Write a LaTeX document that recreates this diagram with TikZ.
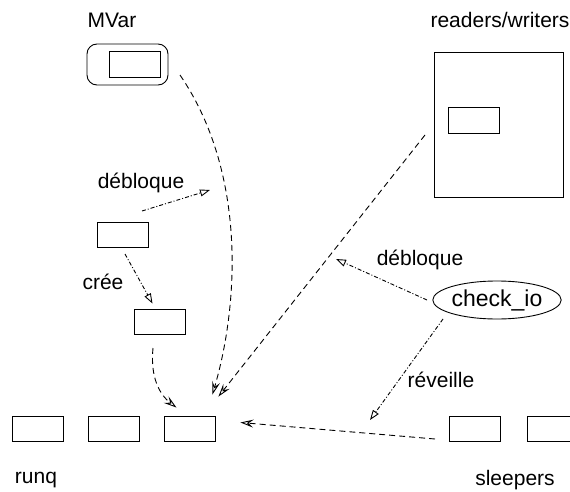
\documentclass[tikz,border=0pt]{standalone}
\usepackage{fontspec}
\setmainfont{Liberation Sans}
\usepackage{tikz}
\usetikzlibrary{arrows.meta,shapes.geometric}

\begin{document}
\begin{tikzpicture}[x=1pt,y=-1pt,line width=0.9pt,
  cell/.style={draw,minimum width=51pt,minimum height=25pt,inner sep=0pt},
  lbl/.style={font=\fontsize{21}{24}\selectfont,inner sep=0pt},
  wait/.style={dash pattern=on 6pt off 4pt,-{Stealth[open,length=13pt,width=8pt,inset=5pt]}},
  signal/.style={dash pattern=on 4pt off 2pt on 1pt off 2pt,-{Triangle[open,length=10pt,width=7pt]}}]
\useasboundingbox (0,0) rectangle (570,492);
\clip (0,0) rectangle (570,492);
\def \rowy {428.5}
% MVar
\node[lbl] (mvarlbl) at (112,20) {MVar};
\node[draw,rounded corners=10pt,minimum width=81pt,minimum height=41pt,inner sep=0pt] (mvar) at (127.5,64.5) {};
\node[cell,minimum height=26pt] (mvarin) at (134.5,64) {};
% readers/writers
\node[lbl] (rwlbl) at (500,20) {readers/writers};
\node[draw,minimum width=129pt,minimum height=145pt,inner sep=0pt] (rw) at (498.5,124.5) {};
\node[cell,minimum height=26pt] (rwin) at (473.5,120) {};
% threads
\node[cell] (t1) at (122.5,234.5) {};
\node[cell] (t2) at (159.5,321.5) {};
% runq and sleepers
\foreach \x [count=\s] in {37.5,113.5,189.5}
  {\node[cell] (q\s) at (\x,\rowy) {};}
\foreach \x [count=\s] in {474.5,552.5}
  {\node[cell] (z\s) at (\x,\rowy) {};}
\node[lbl] (runqlbl) at (36,480) {runq};
\node[lbl] (sleeplbl) at (515,480) {sleepers};
% check_io
\node[draw,ellipse,minimum width=128pt,minimum height=38pt,inner sep=0pt,
  font=\fontsize{23}{26}\selectfont] (io) at (497,300) {check\_io};
% free ends
\coordinate (mvarout) at (180,75);
\coordinate (rwout) at (425,135);
\coordinate (t1out) at (142,211);
\coordinate (t1tip) at (210,190);
\coordinate (t1down) at (125,254);
\coordinate (t2out) at (153,348);
\coordinate (zout) at (435,439);
\coordinate (ioleft) at (427,300);
\coordinate (iotip) at (336,259);
\coordinate (iodown) at (443,319);
\coordinate (iowake) at (370,420);
% waits
\draw[wait] (mvarout) .. controls (245,170) and (240,300) .. ([shift={(-3,-21)}]q3.north east);
\draw[wait] (rwout) -- ([shift={(3,-19)}]q3.north east);
\draw[wait] (t2out) .. controls (150,378) and (160,395) .. ([shift={(-13,-8)}]q3.north);
\draw[wait] (zout) -- ([shift={(25,-6)}]q3.east);
% signals
\draw[signal] (t1out) -- (t1tip);
\draw[signal] (t1down) -- ([shift={(-7,-5)}]t2.north);
\draw[signal] (ioleft) -- (iotip);
\draw[signal] (iodown) -- (iowake);
% labels
\node[lbl] (deb1) at (141,183) {débloque};
\node[lbl] (cree) at (103,282) {crée};
\node[lbl] (deb2) at (420,260) {débloque};
\node[lbl] (rev) at (441,380) {réveille};
\end{tikzpicture}
\end{document}
